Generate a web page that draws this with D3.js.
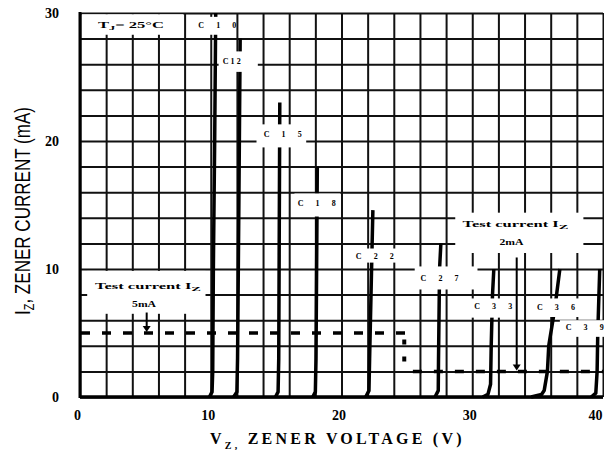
<!DOCTYPE html>
<html>
<head>
<meta charset="utf-8">
<script src="https://cdn.jsdelivr.net/npm/d3@7/dist/d3.min.js"></script>
<style>
body { margin: 0; background: #fff; }
#chart { width: 604px; height: 450px; }
text { font-family: "Liberation Serif", "DejaVu Serif", serif; fill: #000; }
</style>
</head>
<body>
<div id="chart"></div>
<script>
// axis ticks
const xTicks = [0, 10, 20, 30, 40];
const yTicks = [0, 10, 20, 30];

// zener curves, [voltage V, current mA]
const c10 = [[9.9, 0], [10.1, 0.4], [10.15, 2], [10.2, 10], [10.3, 20], [10.38, 30]];
const c12 = [[11.75, 0], [12.0, 0.4], [12.05, 3], [12.15, 15], [12.25, 28]];
const c15 = [[14.95, 0], [15.15, 0.4], [15.2, 3], [15.28, 23]];
const c18 = [[17.8, 0], [18.0, 0.4], [18.05, 3], [18.15, 18]];
const c22 = [[21.85, 0], [22.1, 0.5], [22.15, 3], [22.3, 10], [22.4, 14.6]];
const c27 = [[27.15, 0], [27.4, 0.5], [27.42, 3], [27.5, 10], [27.6, 12]];
const c33 = [[30.8, 0], [31.2, 0.2], [31.4, 1], [31.45, 4], [31.55, 8], [31.65, 10]];
const c36 = [[34.5, 0], [35.3, 0.2], [35.5, 0.5], [35.75, 2], [35.85, 4], [36.2, 6.2], [36.4, 7.6], [36.7, 10]];
const c39 = [[39.1, 0], [39.45, 0.3], [39.55, 2], [39.6, 5], [39.75, 10]];
const curveNames = ["C 1 0", "C12", "C 1 5", "C 1 8", "C 2 2", "C 2 7", "C 3 3", "C 3 6", "C 3 9"];
const curveData = [c10, c12, c15, c18, c22, c27, c33, c36, c39];

// test current levels (mA) and where the step happens (V)
const testHigh = 5;
const testLow = 2;
const testStep = 24.9;

const width = 604, height = 450;
const x = d3.scaleLinear().domain([0, 40]).range([80, 603]);
const y = d3.scaleLinear().domain([0, 30]).range([397, 13]);

const svg = d3.select("#chart")
    .append("svg")
    .attr("width", width)
    .attr("height", height);

// grid every 2 units
const grid = svg.append("g");
grid.append("g")
    .attr("transform", `translate(0,${y(0)})`)
    .call(d3.axisBottom(x).tickValues(d3.range(0, 41, 2)).tickSize(y(30) - y(0)).tickFormat(""));
grid.append("g")
    .attr("transform", `translate(${x(0)},0)`)
    .call(d3.axisLeft(y).tickValues(d3.range(0, 31, 2)).tickSize(x(0) - x(40)).tickFormat(""));
grid.selectAll(".domain").remove();
grid.selectAll("line").attr("stroke", "#111").attr("stroke-width", 2);

// test current dashed lines
const line = d3.line().x(d => x(d[0])).y(d => y(d[1]));
svg.append("path")
    .attr("d", line([[0, testHigh], [testStep, testHigh]]))
    .attr("fill", "none").attr("stroke", "#000").attr("stroke-width", 3.5)
    .attr("stroke-dasharray", "9,12").attr("stroke-dashoffset", -1);
svg.append("path")
    .attr("d", line([[testStep + 0.1, testLow], [40, testLow]]))
    .attr("fill", "none").attr("stroke", "#000").attr("stroke-width", 3.5)
    .attr("stroke-dasharray", "9,12").attr("stroke-dashoffset", -6);
svg.append("path")
    .attr("d", line([[testStep - 0.1, testHigh - 0.5], [testStep - 0.1, testLow + 0.4]]))
    .attr("fill", "none").attr("stroke", "#000").attr("stroke-width", 4)
    .attr("stroke-dasharray", "5,12");

// curves
svg.append("g")
    .selectAll("path")
    .data(curveData)
    .join("path")
    .attr("d", line)
    .attr("fill", "none")
    .attr("stroke", "#000")
    .attr("stroke-width", 3.5)
    .attr("stroke-linejoin", "round");

// white label boxes (data units)
const boxes = [
    [0.15, 7.9, 28.3, 29.9],
    [8.8, 11.8, 28.3, 29.7],
    [10.6, 13.6, 25.4, 27.0],
    [13.5, 17.3, 19.5, 21.3],
    [16.4, 19.9, 14.1, 15.9],
    [20.8, 24.3, 10.5, 11.6],
    [25.6, 30.4, 8.4, 10.2],
    [28.7, 38.5, 11.25, 14.4],
    [29.7, 33.5, 6.2, 7.7],
    [34.4, 38.2, 6.25, 7.7],
    [36.7, 40.2, 4.7, 6.0],
    [0.55, 9.6, 6.5, 9.85]
];
svg.append("g")
    .selectAll("rect")
    .data(boxes)
    .join("rect")
    .attr("x", d => x(d[0]))
    .attr("y", d => y(d[3]))
    .attr("width", d => x(d[1]) - x(d[0]))
    .attr("height", d => y(d[2]) - y(d[3]))
    .attr("fill", "#fff");

// curve labels
const labelPos = [[10.5, 29.05], [11.6, 26.25], [15.5, 20.5], [18.1, 15.15], [22.55, 11.0],
    [27.5, 9.3], [31.6, 7.1], [36.4, 7.0], [38.6, 5.45]];
svg.append("g")
    .selectAll("text")
    .data(curveNames)
    .join("text")
    .attr("x", (d, i) => x(labelPos[i][0]))
    .attr("y", (d, i) => y(labelPos[i][1]))
    .attr("dy", "0.35em")
    .attr("text-anchor", "middle")
    .attr("font-size", 8)
    .attr("font-weight", "bold")
    .attr("textLength", d => d.length > 3 ? 38 : 18)
    .attr("lengthAdjust", "spacing")
    .text(d => d);

// Tj label
const tj = svg.append("text")
    .attr("x", x(3.9)).attr("y", y(29.05)).attr("dy", "0.35em")
    .attr("text-anchor", "middle")
    .attr("font-size", 8).attr("font-weight", "bold")
    .attr("textLength", 66)
    .attr("lengthAdjust", "spacingAndGlyphs");
tj.append("tspan").text("T");
tj.append("tspan").attr("font-size", 6).attr("dy", 2).text("J");
tj.append("tspan").attr("dy", -2).text("= 25°C");

// test current notes
function testNote(cx, cy, value) {
    const t = svg.append("text")
        .attr("x", x(cx)).attr("y", y(cy)).attr("dy", "0.35em")
        .attr("text-anchor", "middle")
        .attr("font-size", 8).attr("font-weight", "bold")
        .attr("textLength", 106)
        .attr("lengthAdjust", "spacingAndGlyphs");
    t.append("tspan").text("Test current I");
    t.append("tspan").attr("font-size", 7).attr("dy", 2).text("Z");
    svg.append("text")
        .attr("x", x(cx - 0.3)).attr("y", y(cy - 1.4)).attr("dy", "0.35em")
        .attr("text-anchor", "middle")
        .attr("font-size", 8).attr("font-weight", "bold")
        .attr("textLength", 24)
        .attr("lengthAdjust", "spacingAndGlyphs")
        .text(value + "mA");
}
testNote(5.2, 8.65, testHigh);
testNote(33.3, 13.5, testLow);

// arrows to the test lines
function arrow(xv, y0, y1) {
    svg.append("line")
        .attr("x1", x(xv)).attr("x2", x(xv))
        .attr("y1", y(y0)).attr("y2", y(y1) - 6)
        .attr("stroke", "#000").attr("stroke-width", 2);
    svg.append("path")
        .attr("d", `M${x(xv) - 4},${y(y1) - 7}L${x(xv) + 4},${y(y1) - 7}L${x(xv)},${y(y1) - 1}Z`)
        .attr("fill", "#000");
}
arrow(5.1, 6.6, testHigh);
arrow(33.4, 10.9, testLow);

// axis lines
svg.append("line")
    .attr("x1", x(0)).attr("x2", x(0)).attr("y1", y(30) - 1).attr("y2", y(0) + 1)
    .attr("stroke", "#000").attr("stroke-width", 3);
svg.append("line")
    .attr("x1", x(0)).attr("x2", x(40)).attr("y1", y(0)).attr("y2", y(0))
    .attr("stroke", "#000").attr("stroke-width", 3.5);

// tick labels
const xAxis = svg.append("g")
    .attr("transform", `translate(-3,${y(0)})`)
    .call(d3.axisBottom(x).tickValues(xTicks).tickSize(0).tickPadding(13));
const yAxis = svg.append("g")
    .attr("transform", `translate(${x(0)},0)`)
    .call(d3.axisLeft(y).tickValues(yTicks).tickSize(0).tickPadding(21));
[xAxis, yAxis].forEach(a => {
    a.select(".domain").remove();
    a.selectAll("text")
        .attr("font-family", "Liberation Serif, serif")
        .attr("font-size", 14)
        .attr("font-weight", "bold")
        .attr("fill", "#000");
});
// keep the last label inside the window
xAxis.selectAll("text").filter(d => d === 40).attr("text-anchor", "end").attr("dx", 2);

// axis titles
const xt = svg.append("text")
    .attr("x", 210).attr("y", 444)
    .attr("font-size", 16).attr("font-weight", "bold")
    .attr("letter-spacing", 1.5)
    .attr("textLength", 253)
    .attr("lengthAdjust", "spacing");
xt.append("tspan").text("V");
xt.append("tspan").attr("font-size", 10).attr("dy", 5).text("Z,");
xt.append("tspan").attr("dy", -5).text(" ZENER VOLTAGE (V)");

const yt = svg.append("text")
    .attr("transform", "translate(30,211) rotate(-90)")
    .attr("text-anchor", "middle")
    .style("font-family", "'Liberation Sans', Arial, sans-serif")
    .attr("font-size", 22)
    .attr("textLength", 208)
    .attr("lengthAdjust", "spacingAndGlyphs");
yt.append("tspan").text("I");
yt.append("tspan").attr("font-size", 14).attr("dy", 4).text("Z");
yt.append("tspan").attr("dy", -4).text(", ZENER CURRENT (mA)");
</script>
</body>
</html>
